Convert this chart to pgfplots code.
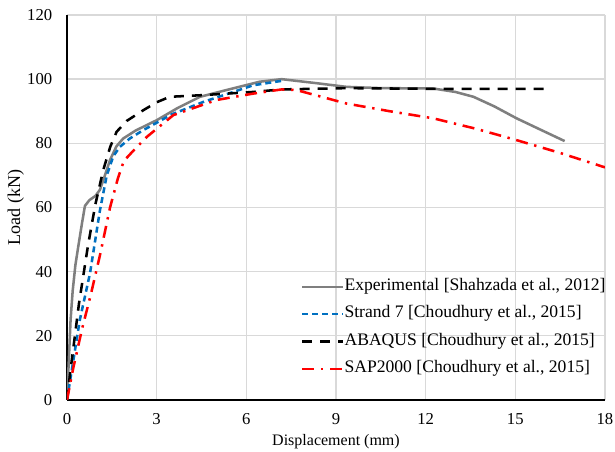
\documentclass[border=0pt]{standalone}
\usepackage{pgfplots}
\pgfplotsset{compat=1.18}
\usepackage{fontspec}
\setmainfont{Liberation Serif}
\definecolor{expgray}{HTML}{7F7F7F}
\definecolor{strblue}{HTML}{0070C0}
\definecolor{sapred}{HTML}{FF0000}
\definecolor{gridgray}{HTML}{D9D9D9}
\begin{document}
\fontsize{12}{14}\selectfont
\begin{tikzpicture}
\useasboundingbox (-50.25pt,-39pt) rectangle (411pt,300pt);
\begin{axis}[
  at={(0pt,0pt)}, anchor=south west,
  scale only axis, width=403.5pt, height=288.75pt,
  xmin=0, xmax=18, ymin=0, ymax=120,
  xtick={0,3,...,18}, ytick={0,20,...,120},
  grid=major, major grid style={gridgray, line width=1pt},
  axis x line=bottom, axis y line=left,
  axis line style={black, line width=1.5pt, -},
  tick align=inside, major tick length=0pt, tick style={draw=none},
  /pgf/number format/assume math mode=true,
  ticklabel style={font=\fontsize{12.5}{14}\selectfont},
  xticklabel style={anchor=center, inner sep=0pt, yshift=-14.25pt},
  yticklabel style={anchor=east, inner sep=0pt, xshift=-10.9pt},
  xlabel={Displacement (mm)}, ylabel={Load (kN)},
  xlabel style={at={(axis description cs:0.5,-0.109)}, anchor=center, inner sep=0pt, font=\fontsize{12}{14}\selectfont},
  ylabel style={at={(axis description cs:-0.0954,0.5)}, anchor=center, inner sep=0pt, font=\fontsize{13.5}{16}\selectfont},
  legend cell align=left,
  legend style={draw=none, fill=none, at={(axis description cs:0.435,0.312)}, anchor=north west,
    inner sep=0pt, outer sep=0pt, row sep=10pt, column sep=0pt,
    font=\fontsize{13.2}{15}\selectfont,
    nodes={inner sep=0pt, text height=8pt, text depth=2.5pt, anchor=west}},
  legend image code/.code={\draw[#1] (0pt,0pt) -- (30.75pt,0pt);},
  line join=round,
]
\addplot[expgray, line width=1.9pt] coordinates {
(0,0) (0.05,10) (0.12,25) (0.19,34) (0.28,42) (0.38,48) (0.5,55) (0.6,60.5) (0.75,62.3) (0.95,63.6) (1.1,65.5) (1.25,69.5) (1.44,74.8) (1.65,79) (1.88,81.5) (2.3,84) (3.0,87.2) (3.7,91) (4.45,94.5) (5.5,97) (6.45,99.2) (7.18,100) (8.3,98.8) (9.35,97.6) (10.5,97.2) (12.25,97.1) (13.0,96) (13.6,94.5) (14.3,91.5) (15.04,87.8) (15.9,84) (16.65,80.7)
};
\addlegendentry{Experimental [Shahzada et al., 2012]}
\addplot[strblue, line width=1.9pt, dash pattern=on 4.5pt off 3pt] coordinates {
(0,0) (0.43,25) (0.77,39.5) (1.1,59) (1.33,70) (1.55,76) (1.77,78.9) (2.1,81.5) (2.55,84.1) (3.5,89) (4.56,92.9) (5.4,95.5) (6.23,98.1) (7.2,99.5)
};
\addlegendentry{Strand 7 [Choudhury et al., 2015]}
\addplot[black, line width=1.9pt, dash pattern=on 7.5pt off 6pt] coordinates {
(0,0) (0.1,8) (0.4,30) (0.7,48) (0.95,61) (1.21,71.6) (1.45,79) (1.66,83.6) (2.0,87) (2.55,90.3) (3.0,92.8) (3.44,94.5) (4.5,95) (6.2,96) (7.2,96.8) (9.35,97.2) (12,97) (16,97)
};
\addlegendentry{ABAQUS [Choudhury et al., 2015]}
\addplot[sapred, line width=1.9pt, dash pattern=on 9pt off 5pt on 1.8pt off 5pt] coordinates {
(0,0) (0.21,10) (0.5,22) (0.8,33) (1.1,45) (1.44,60) (1.7,69) (1.9,74.5) (2.2,77.5) (2.67,82) (3.56,88.8) (5.0,93.5) (6.23,95.5) (7.18,96.8) (7.68,96.6) (9.35,92.4) (10.8,90) (12.25,87.8) (13.7,84.5) (15.04,81) (16.5,77) (18,72.5)
};
\addlegendentry{SAP2000 [Choudhury et al., 2015]}
\end{axis}
\end{tikzpicture}
\end{document}
